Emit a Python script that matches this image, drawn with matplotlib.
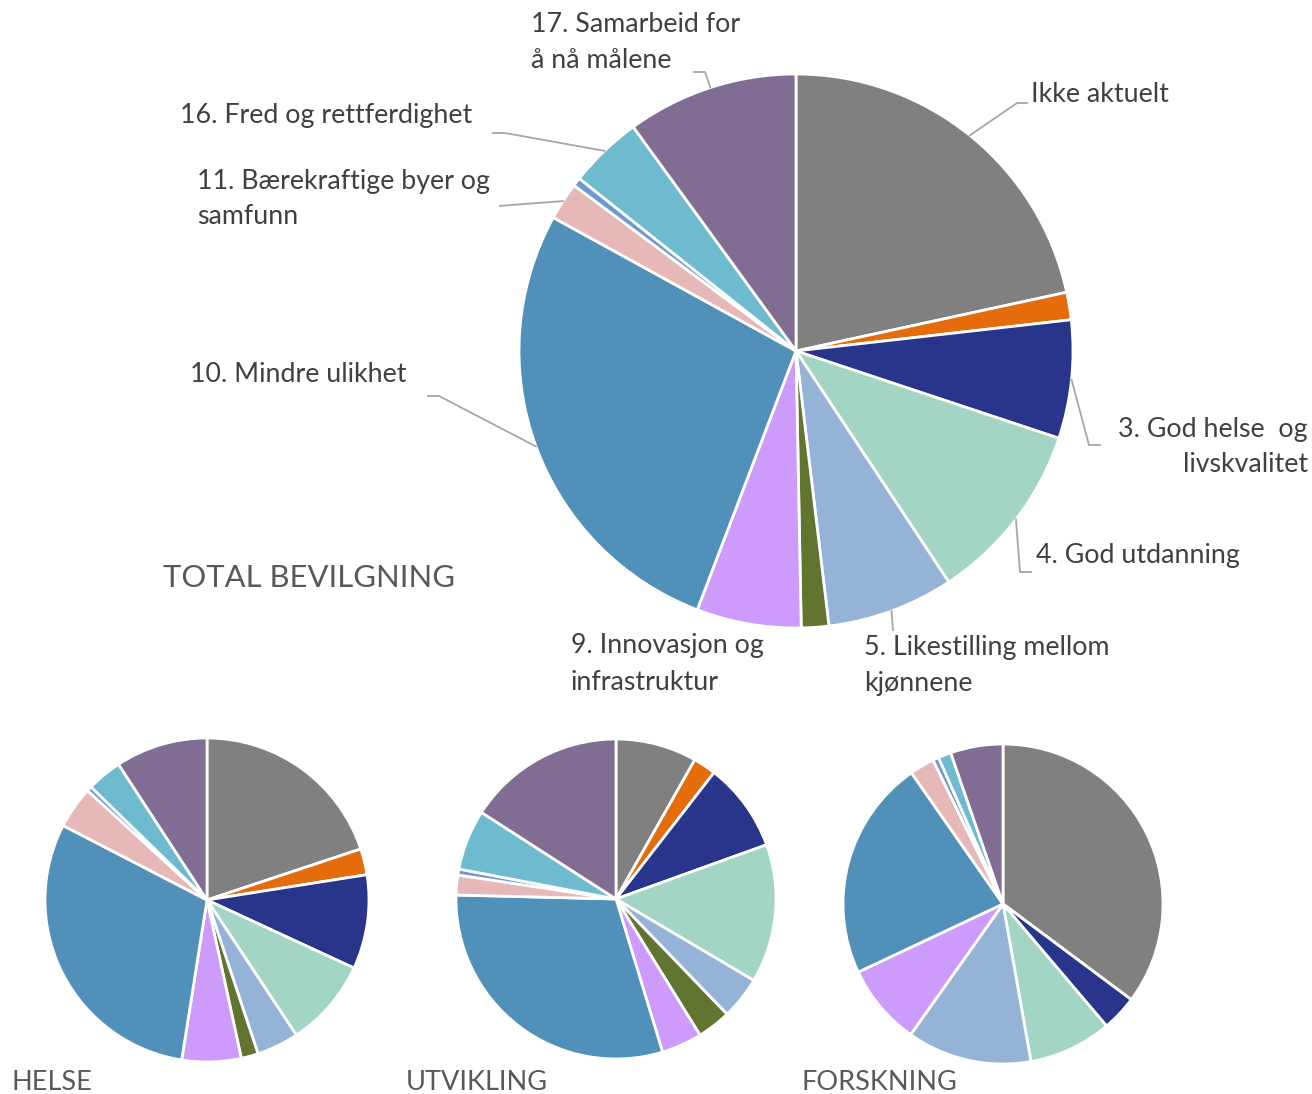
"""
Fordeling av bevilgning på bærekraftsmål: en stor kakediagram for total
bevilgning og tre små for helse, utvikling og forskning.
"""

import matplotlib
matplotlib.use('Agg')
import matplotlib.pyplot as plt
import numpy as np

W, H = 1312, 1094

# Kategorier (rekkefølge med klokka fra toppen)
categories = ['Ikke aktuelt', '2. Utrydde sult', '3. God helse  og\nlivskvalitet',
              '4. God utdanning', '5. Likestilling mellom\nkjønnene',
              '6. Rent vann', '9. Innovasjon og\ninfrastruktur',
              '10. Mindre ulikhet', '11. Bærekraftige byer og\nsamfunn',
              '13. Stoppe klimaendringene', '16. Fred og rettferdighet',
              '17. Samarbeid for\nå nå målene']
colors = ['#808080', '#E46C0A', '#29358B', '#A2D5C6', '#95B3D7', '#617530',
          '#CC9BFC', '#5191B9', '#E6B8B7', '#6E99CF', '#6EBBD0', '#816C94']

# Andeler i prosent
total = [21.6, 1.6, 6.9, 10.6, 7.4, 1.6, 6.1, 27.2, 2.2, 0.5, 4.3, 10.0]
helse = [19.9, 2.6, 9.4, 8.8, 4.2, 1.7, 5.9, 30.1, 4.2, 0.5, 3.5, 9.2]
utvikling = [8.2, 2.3, 9.0, 14.0, 4.3, 3.4, 4.1, 30.1, 2.0, 0.6, 6.1, 15.9]
forskning = [35.2, 0.0, 3.6, 8.4, 12.6, 0.0, 8.2, 22.3, 2.5, 0.6, 1.3, 5.3]

plt.rcParams['font.family'] = ['Lato', 'DejaVu Sans']

fig = plt.figure(figsize=(W / 100, H / 100), dpi=100)


def pie_axes(cx, cy, r, values):
    """Lager en akse med sentrum (cx, cy) og radius r i piksler."""
    ax = fig.add_axes([(cx - r) / W, 1 - (cy + r) / H, 2 * r / W, 2 * r / H])
    wedges, _ = ax.pie(values, colors=colors, startangle=90, counterclock=False,
                       radius=1, wedgeprops=dict(edgecolor='white', linewidth=2))
    ax.set_xlim(-1, 1)
    ax.set_ylim(-1, 1)
    ax.axis('off')
    return ax, wedges


# Stor kake
cx, cy, r = 796, 351, 277
ax, wedges = pie_axes(cx, cy, r, total)


def to_data(px, py):
    return (px - cx) / r, (cy - py) / r


def rim(i):
    w = wedges[i]
    a = np.deg2rad((w.theta1 + w.theta2) / 2)
    return np.cos(a), np.sin(a)


# (indeks, tekstposisjon i px, justering, knekkpunkter for linje i px)
labels = [
    (0, (1031, 95), 'left', [(1017, 103), (1027, 103)]),
    (2, (1308, 447), 'right', [(1089, 445), (1100, 445)]),
    (3, (1036, 555), 'left', [(1020, 572), (1031, 572)]),
    (4, (864, 665), 'left', [(893, 630)]),
    (6, (571, 664), 'left', None),
    (7, (190, 375), 'left', [(439, 396), (428, 396)]),
    (8, (197, 199), 'left', [(511, 205), (500, 206)]),
    (10, (180, 115), 'left', [(505, 133), (493, 133)]),
    (11, (531, 43), 'left', [(705, 72), (694, 72)]),
]

for i, (tx, ty), ha, bends in labels:
    x, y = to_data(tx, ty)
    ax.text(x, y, categories[i], ha=ha, va='center', fontsize=19.3,
            color='#404040', linespacing=1.55, multialignment=ha)
    if bends:
        pts = [rim(i)] + [to_data(*p) for p in bends]
        xs, ys = zip(*pts)
        ax.plot(xs, ys, color='#A6A6A6', linewidth=1.3, clip_on=False)

fig.text(163 / W, 1 - 578 / H, 'TOTAL BEVILGNING', fontsize=22.3, color='#595959',
         ha='left', va='center')

# Små kaker
small = [
    ('HELSE', helse, (207, 900, 162), 12),
    ('UTVIKLING', utvikling, (616, 899, 160), 406),
    ('FORSKNING', forskning, (1003, 904, 160), 802),
]
for title, vals, (sx, sy, sr), tx in small:
    pie_axes(sx, sy, sr, vals)
    fig.text(tx / W, 1 - 1082 / H, title, fontsize=19.5, color='#595959',
             ha='left', va='center')

fig.savefig('out.png', dpi=100)
